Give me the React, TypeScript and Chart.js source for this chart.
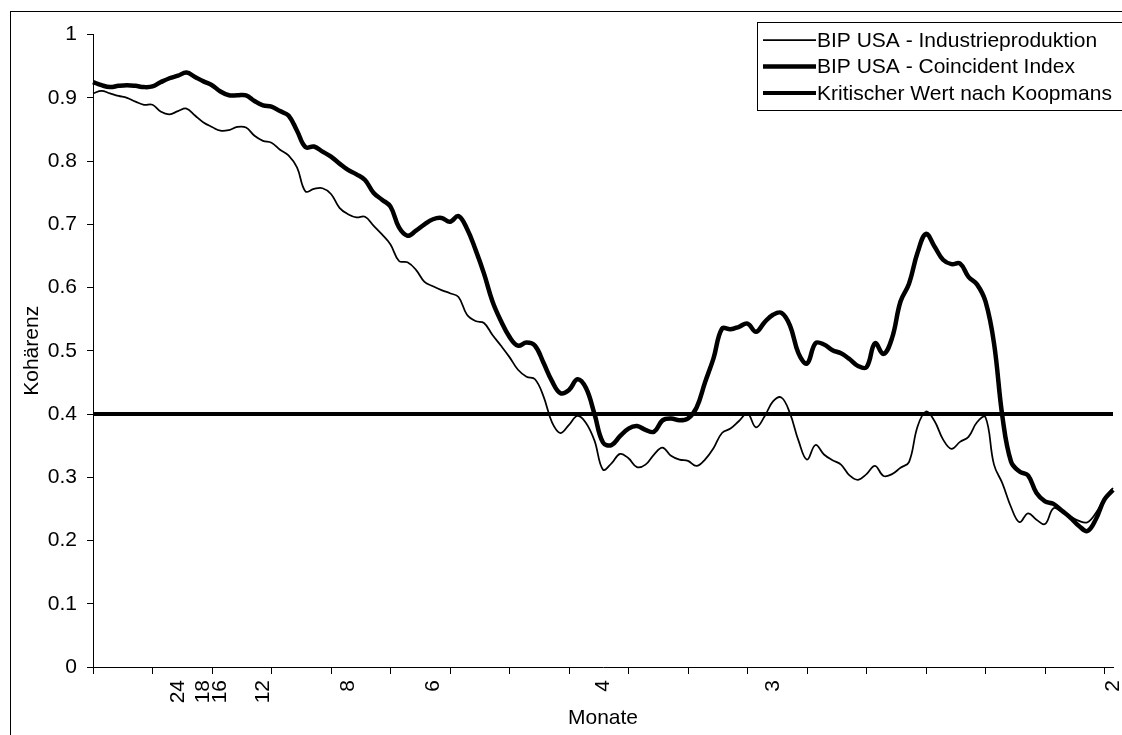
import React, { useEffect, useRef } from 'react';
import { Chart, registerables } from 'chart.js';

Chart.register(...registerables);

// frequency axis: 121 points from 0 to 0.5 cycles per month
const pointCount = 121;
const tickStep = 7;
const periodIndex = [10, 13, 15, 20, 30, 40, 60, 80, 120];
const periodLabels = ['24', '18', '16', '12', '8', '6', '4', '3', '2'];

const industrie = [
  0.907, 0.911, 0.907, 0.903, 0.900, 0.894, 0.889, 0.889, 0.878, 0.874,
  0.879, 0.883, 0.872, 0.861, 0.854, 0.848, 0.849, 0.854, 0.853, 0.840,
  0.832, 0.829, 0.818, 0.809, 0.790, 0.752, 0.756, 0.757, 0.748, 0.726,
  0.716, 0.711, 0.712, 0.698, 0.684, 0.668, 0.642, 0.640, 0.628, 0.609,
  0.602, 0.596, 0.591, 0.585, 0.557, 0.547, 0.544, 0.525, 0.508, 0.490,
  0.470, 0.459, 0.455, 0.428, 0.387, 0.370, 0.383, 0.397, 0.386, 0.358,
  0.312, 0.322, 0.337, 0.330, 0.316, 0.320, 0.336, 0.347, 0.334, 0.328,
  0.326, 0.318, 0.328, 0.346, 0.370, 0.377, 0.389, 0.401, 0.379, 0.396,
  0.420, 0.426, 0.401, 0.358, 0.328, 0.351, 0.336, 0.327, 0.320, 0.303,
  0.296, 0.305, 0.318, 0.302, 0.305, 0.315, 0.324, 0.380, 0.404, 0.389,
  0.360, 0.345, 0.356, 0.364, 0.387, 0.395, 0.320, 0.290, 0.253, 0.229,
  0.243, 0.233, 0.226, 0.251, 0.245, 0.238, 0.231, 0.229, 0.244, 0.267,
  0.283,
];

const coincident = [
  0.925, 0.920, 0.917, 0.919, 0.920, 0.919, 0.917, 0.918, 0.925, 0.931,
  0.935, 0.940, 0.933, 0.926, 0.920, 0.910, 0.904, 0.904, 0.904, 0.895,
  0.888, 0.886, 0.879, 0.872, 0.848, 0.822, 0.823, 0.815, 0.807, 0.796,
  0.786, 0.779, 0.770, 0.750, 0.739, 0.728, 0.695, 0.682, 0.690, 0.700,
  0.708, 0.710, 0.704, 0.713, 0.693, 0.660, 0.622, 0.578, 0.547, 0.522,
  0.508, 0.513, 0.508, 0.481, 0.452, 0.433, 0.438, 0.455, 0.441, 0.400,
  0.355, 0.351, 0.365, 0.377, 0.381, 0.375, 0.372, 0.390, 0.393, 0.390,
  0.393, 0.410, 0.450, 0.488, 0.535, 0.534, 0.538, 0.543, 0.530, 0.545,
  0.557, 0.560, 0.540, 0.496, 0.480, 0.512, 0.510, 0.501, 0.496, 0.487,
  0.476, 0.474, 0.512, 0.495, 0.520, 0.578, 0.606, 0.655, 0.685, 0.665,
  0.644, 0.637, 0.638, 0.617, 0.605, 0.578, 0.512, 0.395, 0.325, 0.309,
  0.303, 0.275, 0.262, 0.258, 0.247, 0.236, 0.223, 0.215, 0.234, 0.265,
  0.280,
];

const kritischerWert = 0.4;

const font = { family: 'Arial, "Liberation Sans", sans-serif', size: 21, lineHeight: 1.2 };

// legend box in the upper right, Excel style
const legendBox = {
  id: 'legendBox',
  afterDraw(chart: Chart) {
    const { ctx } = chart;
    const x = 746.5;
    const y = 10.5;
    const rowH = 26.5;
    ctx.save();
    ctx.fillStyle = '#fff';
    ctx.fillRect(x, y, 500, 88);
    ctx.strokeStyle = '#000';
    ctx.lineWidth = 1;
    ctx.strokeRect(x, y, 500, 88);
    ctx.font = `${font.size}px ${font.family}`;
    ctx.textBaseline = 'middle';
    ctx.fillStyle = '#000';
    chart.data.datasets.forEach((ds: any, i: number) => {
      const cy = 28 + i * rowH;
      ctx.beginPath();
      ctx.lineWidth = ds.borderWidth;
      ctx.moveTo(752, cy);
      ctx.lineTo(805, cy);
      ctx.stroke();
      ctx.fillText(ds.label, 806, cy + 1);
    });
    ctx.restore();
  },
};

const App: React.FC = () => {
  const canvasRef = useRef<HTMLCanvasElement>(null);

  useEffect(() => {
    if (!canvasRef.current) return;
    const labels = Array.from({ length: pointCount }, (_, i) => {
      const k = periodIndex.indexOf(i);
      return k >= 0 ? periodLabels[k] : '';
    });

    const chart = new Chart(canvasRef.current, {
      type: 'line',
      data: {
        labels,
        datasets: [
          {
            label: 'BIP USA - Industrieproduktion',
            data: industrie,
            borderColor: '#000',
            borderWidth: 1.75,
            tension: 0.4,
          },
          {
            label: 'BIP USA - Coincident Index',
            data: coincident,
            borderColor: '#000',
            borderWidth: 4.5,
            tension: 0.4,
          },
          {
            label: 'Kritischer Wert nach Koopmans',
            data: labels.map(() => kritischerWert),
            borderColor: '#000',
            borderWidth: 4,
            tension: 0,
          },
        ],
      },
      options: {
        responsive: true,
        maintainAspectRatio: false,
        animation: false,
        layout: { padding: { left: 0, top: 17, right: 10, bottom: 0 } },
        elements: { point: { radius: 0 } },
        plugins: {
          legend: { display: false },
          tooltip: { enabled: false },
        },
        scales: {
          x: {
            afterFit: (s: any) => {
              s.height = 69;
              s.paddingLeft = 0;
              s.paddingRight = 0;
            },
            grid: {
              drawOnChartArea: false,
              tickLength: 7,
              tickColor: (c: any) => (c.index % tickStep === 0 ? '#000' : 'rgba(0,0,0,0)'),
            },
            border: { color: '#000', width: 1 },
            ticks: { autoSkip: false, maxRotation: 90, minRotation: 90, padding: 6, color: '#000', font },
            title: { display: true, text: 'Monate', color: '#000', font, padding: { top: 0, bottom: 5 } },
          },
          y: {
            min: 0,
            max: 1,
            afterFit: (s: any) => { s.width = 82; },
            grid: { drawOnChartArea: false, tickLength: 6, tickColor: '#000' },
            border: { color: '#000', width: 1 },
            ticks: {
              stepSize: 0.1,
              padding: 10,
              color: '#000',
              font,
              callback: (v: any) => String(Number(Number(v).toFixed(1))),
            },
            title: { display: true, text: 'Kohärenz', color: '#000', font, padding: { top: 9, bottom: 0 } },
          },
        },
      },
      plugins: [legendBox],
    });

    return () => chart.destroy();
  }, []);

  return (
    <div style={{ position: 'fixed', inset: 0, overflow: 'hidden', background: '#fff' }}>
      <div
        style={{
          position: 'absolute',
          left: 10,
          top: 11,
          width: 1112,
          height: 724,
          border: '1px solid #000',
          background: '#fff',
        }}
      >
        <canvas ref={canvasRef}></canvas>
      </div>
    </div>
  );
};

export default App;
